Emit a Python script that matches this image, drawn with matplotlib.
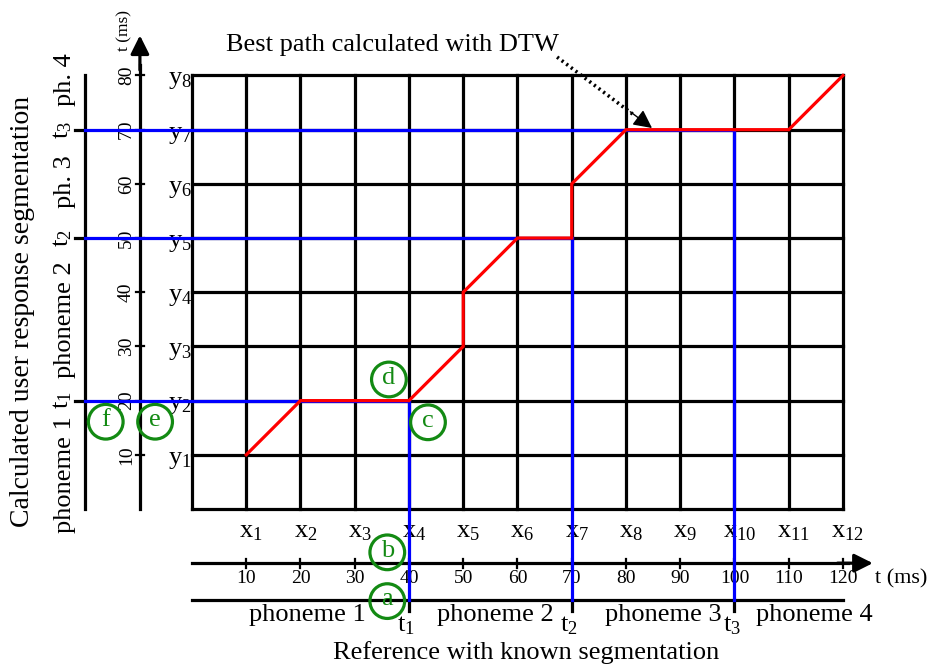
import matplotlib
matplotlib.use("Agg")
import matplotlib.pyplot as plt
from matplotlib.patches import Circle

plt.rcParams['font.family'] = ['Liberation Serif', 'DejaVu Serif']
plt.rcParams['mathtext.fontset'] = 'custom'
plt.rcParams['mathtext.rm'] = 'Liberation Serif'
plt.rcParams['mathtext.it'] = 'Liberation Serif:italic'

# DTW grid: reference frames (x) and user frames (y), in ms
ref_ticks = [10, 20, 30, 40, 50, 60, 70, 80, 90, 100, 110, 120]
user_ticks = [10, 20, 30, 40, 50, 60, 70, 80]

# best path through the grid
path_x = [10, 20, 40, 50, 50, 60, 70, 70, 80, 110, 120]
path_y = [10, 20, 20, 30, 40, 50, 50, 60, 70, 70, 80]

# phoneme boundaries
ref_bounds = [40, 70, 100]
user_bounds = [20, 50, 70]
ref_phonemes = ["phoneme 1", "phoneme 2", "phoneme 3", "phoneme 4"]
ref_phon_pos = [21.2, 55.9, 86.8, 114.8]
user_phonemes = ["phoneme 1", "phoneme 2", "ph. 3", "ph. 4"]
user_phon_pos = [6.3, 35.0, 60.5, 79.2]

# circled markers
marks = ["a", "b", "c", "d", "e", "f"]
mark_x = [36.0, 36.0, 43.5, 36.3, -6.8, -15.9]
mark_y = [-17.0, -8.0, 16.0, 23.9, 16.1, 16.1]

LW = 2.3
FS = 19

fig = plt.figure(figsize=(9.3, 6.69), dpi=100)
ax = fig.add_axes([0, 0, 1, 1])
ax.set_xlim(-35.39, 136.04)
ax.set_ylim(-29.53, 93.93)
ax.axis('off')

xmax = ref_ticks[-1]
ymax = user_ticks[-1]

# grid
for v in [0] + ref_ticks:
    ax.plot([v, v], [0, ymax], color='k', lw=LW, solid_capstyle='projecting', zorder=1)
for v in [0] + user_ticks:
    ax.plot([0, xmax], [v, v], color='k', lw=LW, solid_capstyle='projecting', zorder=1)

# axes with arrows
ref_axis_y = -10
user_axis_x = -9.6
ax.plot([0, 121], [ref_axis_y, ref_axis_y], color='k', lw=LW, zorder=2)
ax.annotate('', xy=(125.5, ref_axis_y), xytext=(119, ref_axis_y),
            arrowprops=dict(arrowstyle='-|>', color='k', lw=LW, mutation_scale=28,
                            shrinkA=0, shrinkB=0))
ax.plot([user_axis_x, user_axis_x], [0, 82], color='k', lw=LW, zorder=2)
ax.annotate('', xy=(user_axis_x, 87.4), xytext=(user_axis_x, 81),
            arrowprops=dict(arrowstyle='-|>', color='k', lw=LW, mutation_scale=28,
                            shrinkA=0, shrinkB=0))
for v in ref_ticks:
    ax.plot([v, v], [ref_axis_y - 0.8, ref_axis_y + 0.8], color='k', lw=1.6)
    ax.text(v, -12.9, str(v), fontsize=14, ha='center', va='center')
for v in user_ticks:
    ax.plot([user_axis_x - 0.8, user_axis_x + 0.8], [v, v], color='k', lw=1.6)
    ax.text(-12.1, v, str(v), fontsize=14, ha='center', va='center', rotation=90)
ax.text(125.9, -12.9, 't (ms)', fontsize=16, ha='left', va='center')
ax.text(-12.5, 88.3, 't (ms)', fontsize=12.5, ha='center', va='center', rotation=90)

# frame labels
for i, v in enumerate(ref_ticks):
    ax.text(v + 0.9, -4.3, r'$\mathrm{x}_{%d}$' % (i + 1), fontsize=FS, ha='center', va='center')
for i, v in enumerate(user_ticks):
    ax.text(-2.2, v - 0.9, r'$\mathrm{y}_{%d}$' % (i + 1), fontsize=FS, ha='center', va='center')

# segmentation lines
ref_seg_y = -16.8
user_seg_x = -19.7
ax.plot([0, xmax], [ref_seg_y, ref_seg_y], color='k', lw=LW, zorder=2)
ax.plot([user_seg_x, user_seg_x], [0, ymax], color='k', lw=LW, zorder=2)
for v in ref_bounds:
    ax.plot([v, v], [ref_seg_y, ref_seg_y - 2.1], color='k', lw=LW, zorder=2)
for v in user_bounds:
    ax.plot([user_seg_x, user_seg_x - 1.8], [v, v], color='k', lw=LW, zorder=2)

# blue boundary projections
for rb, ub in zip(ref_bounds, user_bounds):
    ax.plot([user_seg_x, rb], [ub, ub], color='#0000ff', lw=LW, zorder=3)
    ax.plot([rb, rb], [ub, ref_seg_y], color='#0000ff', lw=LW, zorder=3)

# best path
ax.plot(path_x, path_y, color='#ff0000', lw=LW, zorder=4, solid_joinstyle='miter')

# phoneme names
for name, p in zip(ref_phonemes, ref_phon_pos):
    ax.text(p, -19.6, name, fontsize=FS, ha='center', va='center')
for i, v in enumerate(ref_bounds):
    ax.text(v - 0.5, -21.6, r'$\mathrm{t}_{%d}$' % (i + 1), fontsize=FS, ha='center', va='center')
for name, p in zip(user_phonemes, user_phon_pos):
    ax.text(-23.4, p, name, fontsize=FS, ha='center', va='center', rotation=90)
for i, v in enumerate(user_bounds):
    ax.text(-23.9, v, r'$\mathrm{t}_{%d}$' % (i + 1), fontsize=FS, ha='center', va='center', rotation=90)

ax.text(61.6, -26.4, 'Reference with known segmentation', fontsize=FS, ha='center', va='center')
ax.text(-31.2, 36.5, 'Calculated user response segmentation', fontsize=20, ha='center',
        va='center', rotation=90)

# DTW annotation
ax.text(6.3, 85.6, 'Best path calculated with DTW', fontsize=FS, ha='left', va='center')
ax.plot([67.3, 81.6], [83.4, 72.6], color='k', lw=2.6, linestyle=(0, (0.6, 1.0)),
        dash_capstyle='butt')
ax.annotate('', xy=(84.8, 70.3), xytext=(80.8, 73.3),
            arrowprops=dict(arrowstyle='-|>', color='k', lw=1, mutation_scale=28,
                            shrinkA=0, shrinkB=0))

# circled letters
for m, cx, cy in zip(marks, mark_x, mark_y):
    ax.add_patch(Circle((cx, cy), 3.2, fill=False, edgecolor='#138a13', lw=2.3, zorder=5))
    ax.text(cx, cy + 0.3, m, color='#138a13', fontsize=FS, ha='center', va='center', zorder=6)

fig.savefig('out.png', dpi=100)
